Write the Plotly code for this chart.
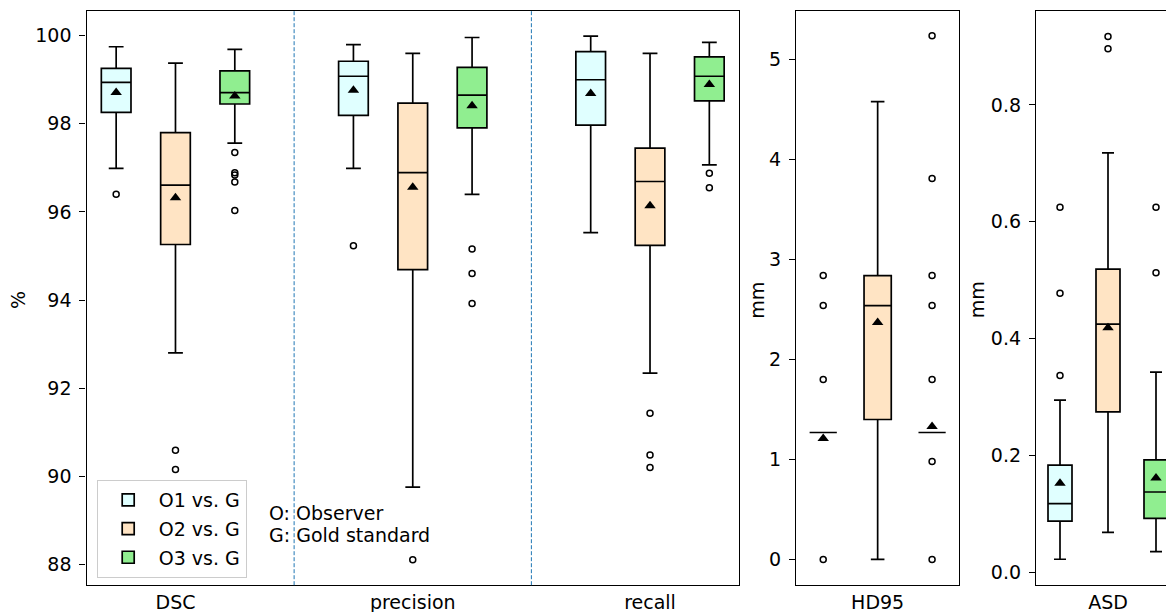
import plotly.graph_objects as go

METRICS = ["DSC", "precision", "recall", "HD95", "ASD"]
GROUPS = ["O1 vs. G", "O2 vs. G", "O3 vs. G"]
COLORS = ["#E0FFFF", "#FFE4C4", "#90EE90"]

# rows: O1, O2, O3 ; columns: DSC, precision, recall, HD95, ASD
LOWER = [[96.99, 96.99, 95.53, 1.27, 0.023],
         [92.80, 89.75, 92.34, 0.00, 0.069],
         [97.56, 96.40, 97.07, 1.27, 0.036]]
Q1 = [[98.26, 98.19, 97.97, 1.27, 0.088],
      [95.26, 94.69, 95.24, 1.40, 0.275],
      [98.45, 97.91, 98.52, 1.27, 0.093]]
MEDIAN = [[98.94, 99.08, 99.00, 1.27, 0.118],
          [96.61, 96.89, 96.69, 2.54, 0.425],
          [98.71, 98.65, 99.08, 1.27, 0.138]]
Q3 = [[99.26, 99.42, 99.64, 1.27, 0.184],
      [97.80, 98.47, 97.45, 2.84, 0.519],
      [99.20, 99.28, 99.52, 1.27, 0.193]]
UPPER = [[99.75, 99.80, 99.99, 1.27, 0.295],
         [99.38, 99.60, 99.60, 4.58, 0.718],
         [99.69, 99.96, 99.85, 1.27, 0.343]]
MEAN = [[98.71, 98.76, 98.69, 1.21, 0.153],
        [96.32, 96.56, 96.14, 2.37, 0.419],
        [98.63, 98.41, 98.89, 1.33, 0.162]]
OUTLIERS_O1 = [[96.40], [95.23], [], [2.84, 2.54, 1.80, 0.0], [0.625, 0.478, 0.337]]
OUTLIERS_O2 = [[90.59, 90.15], [88.10], [91.43, 90.48, 90.20], [], [0.917, 0.896]]
OUTLIERS_O3 = [[97.35, 96.89, 96.84, 96.68, 96.03], [95.16, 94.60, 93.92], [96.88, 96.55],
               [5.24, 3.81, 2.84, 2.54, 1.80, 0.98, 0.0], [0.625, 0.513]]
OUTLIERS = [OUTLIERS_O1, OUTLIERS_O2, OUTLIERS_O3]

# page offset of the plot div (browser body margin)
OFF = 8
W, H = 1174 - OFF, 612 - OFF
FONT = "DejaVu Sans"
FS = 19


def px(x):
    return (x - OFF) / W


def py(y):
    return 1 - (y - OFF) / H


def place(m, i):
    if m < 3:
        return "x", "y", 4 * m + 1 + i
    if m == 3:
        return "x2", "y2", 1 + i
    return "x3", "y3", 1 + i


fig = go.Figure()
for i in range(3):
    for xa, ya, ms in (("x", "y", [0, 1, 2]), ("x2", "y2", [3]), ("x3", "y3", [4])):
        fig.add_trace(go.Box(
            x=[place(m, i)[2] for m in ms],
            q1=[Q1[i][m] for m in ms],
            median=[MEDIAN[i][m] for m in ms],
            q3=[Q3[i][m] for m in ms],
            lowerfence=[LOWER[i][m] for m in ms],
            upperfence=[UPPER[i][m] for m in ms],
            width=0.5, whiskerwidth=0.5, boxpoints=False,
            fillcolor=COLORS[i], line=dict(color="black", width=1.7),
            name=GROUPS[i], legendgroup=GROUPS[i], showlegend=(xa == "x"),
            xaxis=xa, yaxis=ya, hoverinfo="skip",
        ))
    for m in range(5):
        xa, ya, pos = place(m, i)
        fig.add_trace(go.Scatter(
            x=[pos], y=[MEAN[i][m]], mode="markers", xaxis=xa, yaxis=ya,
            marker=dict(symbol="triangle-up", size=10, color="black"),
            showlegend=False, hoverinfo="skip"))
        if OUTLIERS[i][m]:
            fig.add_trace(go.Scatter(
                x=[pos] * len(OUTLIERS[i][m]), y=OUTLIERS[i][m], mode="markers",
                xaxis=xa, yaxis=ya,
                marker=dict(symbol="circle", size=6, color="rgba(0,0,0,0)",
                            line=dict(color="black", width=1.5)),
                showlegend=False, hoverinfo="skip"))

top = py(10.7)
bot = py(585.2)
axis_common = dict(showline=True, linecolor="black", linewidth=1.3, showgrid=False,
                   zeroline=False, automargin=False,
                   tickfont=dict(family=FONT, size=FS, color="black"))
xcommon = dict(axis_common, ticks="", mirror=True)
ycommon = dict(axis_common, ticks="outside", ticklen=6, tickwidth=1.2, tickcolor="black",
               ticklabelstandoff=4)

fig.update_layout(
    width=W, height=H, margin=dict(l=0, r=0, t=0, b=0, pad=0),
    paper_bgcolor="white", plot_bgcolor="white", boxmode="overlay",
    font=dict(family=FONT, size=FS, color="black"),
    xaxis=dict(xcommon, domain=[px(86.5), px(739)], range=[0.5, 11.5],
               tickvals=[2, 6, 10], ticktext=METRICS[:3], anchor="y"),
    yaxis=dict(ycommon, domain=[bot, top], range=[87.525, 100.568], dtick=2, tick0=0,
               mirror=True, anchor="x"),
    xaxis2=dict(xcommon, domain=[px(796), px(959.3)], range=[0.5, 3.5],
                tickvals=[2], ticktext=[METRICS[3]], anchor="y2"),
    yaxis2=dict(ycommon, domain=[bot, top], range=[-0.258, 5.49], dtick=1, tick0=0,
                mirror=True, anchor="x2"),
    xaxis3=dict(xcommon, domain=[px(1036), 1.0], range=[0.5, 0.5 + (1174 - 1036) / 48.0],
                tickvals=[2], ticktext=[METRICS[4]], anchor="y3"),
    yaxis3=dict(ycommon, domain=[bot, top], range=[-0.0214, 0.961], dtick=0.2, tick0=0,
                tickformat=".1f", mirror=False, anchor="x3"),
    legend=dict(x=px(96.7), y=py(480), xanchor="left", yanchor="top",
                bgcolor="rgba(255,255,255,0.8)", bordercolor="#cccccc", borderwidth=1,
                font=dict(family=FONT, size=FS, color="black"), itemwidth=51,
                tracegroupgap=1),
    showlegend=True,
)

for xv in (4, 8):
    fig.add_shape(type="line", xref="x", yref="y domain", x0=xv, x1=xv, y0=0, y1=1,
                  line=dict(color="#1f77b4", width=1, dash="4px,2px"))

for txt, ax, ay in (("%", 18, 300), ("mm", 756.7, 300), ("mm", 977.3, 300)):
    fig.add_annotation(text=txt, x=px(ax), y=py(ay), xref="paper", yref="paper",
                       textangle=-90, showarrow=False,
                       xanchor="center", yanchor="middle",
                       font=dict(family=FONT, size=FS, color="black"))
for txt, yy in (("O: Observer", 512.7), ("G: Gold standard", 535.3)):
    fig.add_annotation(text=txt, x=px(267.3), y=py(yy), xref="paper", yref="paper",
                       showarrow=False, xanchor="left", yanchor="middle",
                       font=dict(family=FONT, size=FS, color="black"))

fig.write_html("out.html")
